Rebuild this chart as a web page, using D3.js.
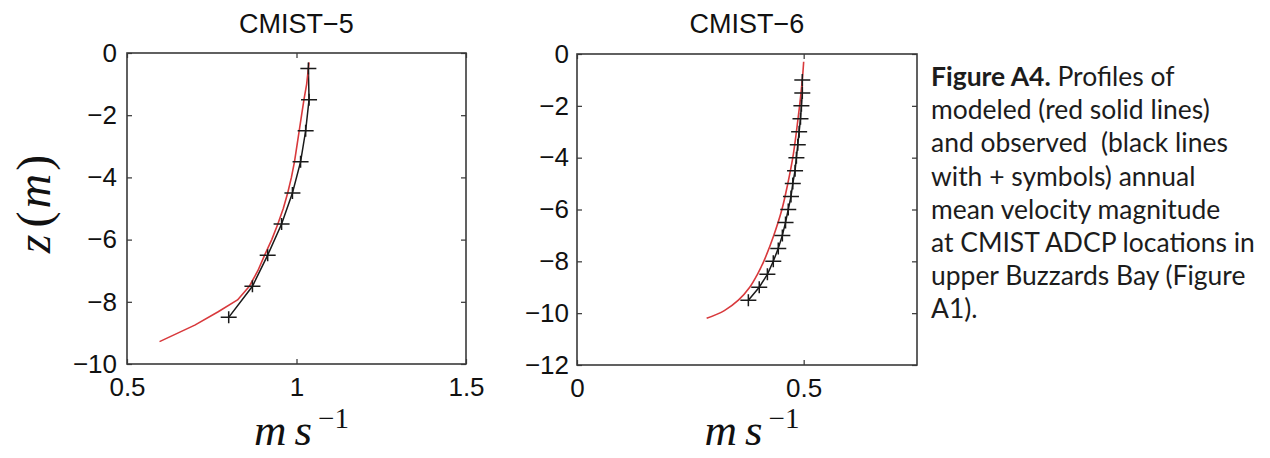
<!DOCTYPE html>
<html>
<head>
<meta charset="utf-8">
<script src="https://d3js.org/d3.v7.min.js"></script>
<style>
  html, body { margin: 0; padding: 0; background: #fff; }
  svg { display: block; }
  .capline { white-space: pre; }
</style>
</head>
<body>
<svg id="chart" width="1270" height="458"></svg>
<script>
// ---------------- DATA ----------------
// CMIST-5
const p1Title = "CMIST\u22125";
const p1ObsDepth = [-0.5, -1.5, -2.5, -3.5, -4.5, -5.5, -6.5, -7.5, -8.5];
const p1ObsSpeed = [1.035, 1.037, 1.027, 1.012, 0.988, 0.956, 0.915, 0.870, 0.800];
const p1ModDepth = [-0.3, -1.0, -1.5, -2.0, -2.5, -3.0, -3.5, -4.0, -4.5, -5.0, -5.5, -6.0, -6.5, -7.0, -7.5, -7.94, -8.32, -8.75, -9.28];
const p1ModSpeed = [1.037, 1.030, 1.022, 1.015, 1.008, 1.001, 0.994, 0.985, 0.974, 0.961, 0.945, 0.927, 0.906, 0.886, 0.861, 0.826, 0.769, 0.700, 0.596];
const p1XTicks = [0.5, 1, 1.5];
const p1YTicks = [0, -2, -4, -6, -8, -10];
const p1XDomain = [0.5, 1.5];
const p1YDomain = [-10, 0];

// CMIST-6
const p2Title = "CMIST\u22126";
const p2ObsDepth = [-1, -1.5, -2, -2.5, -3, -3.5, -4, -4.5, -5, -5.5, -6, -6.5, -7, -7.5, -8, -8.5, -9, -9.5];
const p2ObsSpeed = [0.497, 0.497, 0.495, 0.493, 0.490, 0.487, 0.484, 0.481, 0.476, 0.472, 0.466, 0.460, 0.453, 0.444, 0.433, 0.420, 0.402, 0.378];
const p2ModDepth = [-0.3, -1, -2, -3, -4, -5, -6, -7, -8, -8.5, -9, -9.5, -9.9, -10.2];
const p2ModSpeed = [0.500, 0.497, 0.491, 0.484, 0.476, 0.465, 0.452, 0.434, 0.412, 0.398, 0.381, 0.356, 0.325, 0.286];
const p2XTicks = [0, 0.5];
const p2YTicks = [0, -2, -4, -6, -8, -10, -12];
const p2XDomain = [0, 0.75];
const p2YDomain = [-12, 0];

const captionBold = "Figure A4.";
const captionLines = [
  " Profiles of",
  "modeled (red solid lines)",
  "and observed  (black lines",
  "with + symbols) annual",
  "mean velocity magnitude",
  "at CMIST ADCP locations in",
  "upper Buzzards Bay (Figure",
  "A1)."
];

// ---------------- DRAW ----------------
const svg = d3.select("#chart");
const fmt = d => String(d).replace("-", "\u2212");
const tickFont = "'Liberation Sans', Arial, Helvetica, sans-serif";
const mathFont = "'Liberation Serif', 'Times New Roman', serif";

function panel(opt) {
  const x = d3.scaleLinear().domain(opt.xDomain).range([opt.left, opt.right]);
  const y = d3.scaleLinear().domain(opt.yDomain).range([opt.bottom, opt.top]);
  const g = svg.append("g");

  const styleAxis = (sel) => {
    sel.select(".domain").remove();
    sel.selectAll(".tick line").attr("stroke", "#333").attr("stroke-width", 1.2);
    sel.selectAll(".tick text").attr("font-family", tickFont).attr("font-size", 26).attr("fill", "#111");
  };

  g.append("g").attr("transform", `translate(0,${opt.bottom})`)
    .call(d3.axisBottom(x).tickValues(opt.xTicks).tickFormat(fmt).tickSizeInner(-5).tickSizeOuter(0).tickPadding(14))
    .call(styleAxis);
  g.append("g").attr("transform", `translate(0,${opt.top})`)
    .call(d3.axisTop(x).tickValues(opt.xTicks).tickFormat("").tickSizeInner(-5).tickSizeOuter(0))
    .call(styleAxis);
  g.append("g").attr("transform", `translate(${opt.left},0)`)
    .call(d3.axisLeft(y).tickValues(opt.yTicks).tickFormat(fmt).tickSizeInner(-5).tickSizeOuter(0).tickPadding(opt.yPad))
    .call(styleAxis);
  g.append("g").attr("transform", `translate(${opt.right},0)`)
    .call(d3.axisRight(y).tickValues(opt.yTicks).tickFormat("").tickSizeInner(-5).tickSizeOuter(0))
    .call(styleAxis);

  g.append("rect")
    .attr("x", opt.left).attr("y", opt.top)
    .attr("width", opt.right - opt.left).attr("height", opt.bottom - opt.top)
    .attr("fill", "none").attr("stroke", "#3a3a3a").attr("stroke-width", 1.6);

  const line = d3.line().x(d => x(d[0])).y(d => y(d[1]));

  const obs = opt.obsSpeed.map((s, i) => [s, opt.obsDepth[i]]);
  g.append("path").datum(obs).attr("d", line)
    .attr("fill", "none").attr("stroke", "#1a1a1a").attr("stroke-width", 1.5);

  const mod = opt.modSpeed.map((s, i) => [s, opt.modDepth[i]]);
  g.append("path").datum(mod)
    .attr("d", d3.line().x(d => x(d[0])).y(d => y(d[1])).curve(opt.curve))
    .attr("fill", "none").attr("stroke", "#d8393c").attr("stroke-width", 1.6)
    .attr("stroke-linejoin", "round");

  g.selectAll(".mk").data(obs).enter().append("path")
    .attr("d", d => `M${x(d[0]) - 8},${y(d[1])}H${x(d[0]) + 8}M${x(d[0])},${y(d[1]) - 6}V${y(d[1]) + 6}`)
    .attr("stroke", "#1a1a1a").attr("stroke-width", 1.5).attr("fill", "none");

  g.append("text")
    .attr("x", (opt.left + opt.right) / 2).attr("y", 33)
    .attr("text-anchor", "middle")
    .attr("font-family", tickFont).attr("font-size", 27).attr("fill", "#111")
    .text(opt.title);

  const xl = g.append("text")
    .attr("x", (opt.left + opt.right) / 2 + 5).attr("y", 445)
    .attr("text-anchor", "middle")
    .attr("font-family", mathFont).attr("font-size", 45).attr("fill", "#111");
  xl.append("tspan").attr("font-style", "italic").text("m");
  xl.append("tspan").attr("font-style", "italic").attr("dx", 8).text("s");
  xl.append("tspan").attr("font-size", 29).attr("dx", 6).attr("dy", -17).text("\u22121");

  return { x, y };
}

panel({
  title: p1Title, xDomain: p1XDomain, yDomain: p1YDomain, xTicks: p1XTicks, yTicks: p1YTicks,
  left: 127, right: 466, top: 53, bottom: 364, yPad: 10, curve: d3.curveLinear,
  obsDepth: p1ObsDepth, obsSpeed: p1ObsSpeed, modDepth: p1ModDepth, modSpeed: p1ModSpeed
});
panel({
  title: p2Title, xDomain: p2XDomain, yDomain: p2YDomain, xTicks: p2XTicks, yTicks: p2YTicks,
  left: 577, right: 917, top: 54, bottom: 365, yPad: 8, curve: d3.curveCatmullRom.alpha(0.5),
  obsDepth: p2ObsDepth, obsSpeed: p2ObsSpeed, modDepth: p2ModDepth, modSpeed: p2ModSpeed
});

// y label z(m)
const yl = svg.append("text")
  .attr("transform", "translate(50,204) rotate(-90)")
  .attr("text-anchor", "middle")
  .attr("font-family", mathFont).attr("font-size", 48).attr("fill", "#111");
yl.append("tspan").attr("font-style", "italic").text("z");
yl.append("tspan").attr("dx", 7).text("(");
yl.append("tspan").attr("font-style", "italic").attr("dx", 3).text("m");
yl.append("tspan").attr("dx", 3).text(")");

// caption
const capFont = "Lato, 'Open Sans', sans-serif";
const cap = svg.append("g").attr("fill", "#1c1c1c").attr("font-family", capFont);
const capSize = 24;
captionLines.forEach((ln, i) => {
  const t = cap.append("text").attr("class", "capline").attr("x", 931).attr("y", 86 + i * 33.2)
    .attr("font-size", capSize);
  if (i === 0) {
    t.append("tspan").attr("font-weight", "bold").text(captionBold);
  }
  t.append("tspan").text(ln);
});
const widths = cap.selectAll(".capline").nodes().map(n => n.getComputedTextLength());
const maxW = d3.max(widths);
cap.selectAll(".capline").attr("font-size", capSize * 324 / maxW);
</script>
</body>
</html>
